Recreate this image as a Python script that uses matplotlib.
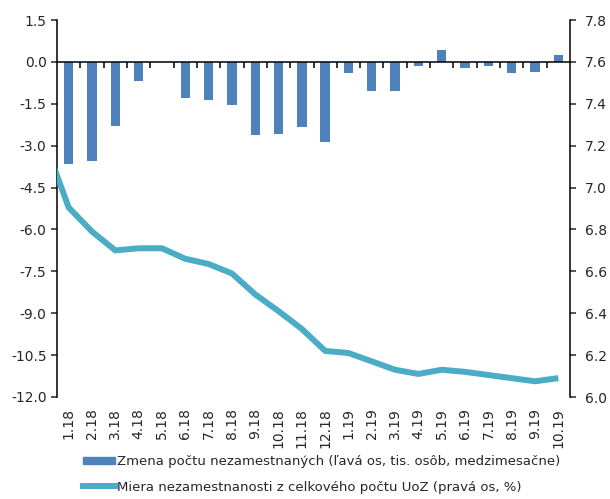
# Zmena poctu nezamestnanych a miera nezamestnanosti (UoZ), 1.18 - 10.19

import numpy as np
import matplotlib
matplotlib.use("Agg")
import matplotlib.pyplot as plt
from matplotlib.ticker import FixedLocator

months = ["1.18", "2.18", "3.18", "4.18", "5.18", "6.18", "7.18", "8.18",
          "9.18", "10.18", "11.18", "12.18", "1.19", "2.19", "3.19", "4.19",
          "5.19", "6.19", "7.19", "8.19", "9.19", "10.19"]

# zmena poctu nezamestnanych, tis. osob, medzimesacne (lava os)
change = [-3.67, -3.55, -2.29, -0.68, 0.0, -1.31, -1.36, -1.55,
          -2.63, -2.57, -2.34, -2.88, -0.41, -1.03, -1.06, -0.14,
          0.44, -0.23, -0.13, -0.41, -0.37, 0.23]

# miera nezamestnanosti z celkoveho poctu UoZ, % (prava os)
# prvy bod je 12.17, vidno z neho len kusok pri lavej osi
rate_prev = 7.21
rate = [6.905, 6.79, 6.70, 6.71, 6.71, 6.66, 6.635, 6.59,
        6.49, 6.41, 6.325, 6.22, 6.21, 6.17, 6.13, 6.11,
        6.13, 6.12, 6.105, 6.09, 6.075, 6.09]

bar_color = "#4F81BD"
line_color = "#4BACC6"
txt = "#262626"

plt.rcParams["font.family"] = "DejaVu Sans"
plt.rcParams["font.size"] = 10

fig = plt.figure(figsize=(6.10, 4.99), dpi=100)
ax = fig.add_axes([57 / 610, 1 - 397 / 499, (570 - 57) / 610, (397 - 20) / 499])
ax2 = ax.twinx()

x = np.arange(len(months))
ax.bar(x, change, width=0.4, color=bar_color, zorder=2)

x_line = np.arange(-1, len(months))
ax2.plot(x_line, [rate_prev] + rate, color=line_color, lw=4.3,
         solid_joinstyle="round", solid_capstyle="butt", zorder=3)

ax.set_xlim(-0.5, len(months) - 0.5)
ax.set_ylim(-12, 1.5)
ax.set_yticks(np.arange(-12, 1.6, 1.5))
ax.set_yticklabels(["%.1f" % v for v in np.arange(-12, 1.6, 1.5)])
ax2.set_ylim(6.0, 7.8)
ax2.set_yticks(np.arange(6.0, 7.81, 0.2))
ax2.set_yticklabels(["%.1f" % v for v in np.arange(6.0, 7.81, 0.2)])

for s in ["top", "right"]:
    ax.spines[s].set_visible(False)
for s in ["top", "left", "bottom"]:
    ax2.spines[s].set_visible(False)
ax.spines["left"].set_linewidth(1.1)
ax2.spines["right"].set_linewidth(1.1)

# nulova os s ciarkami medzi kategoriami
ax.spines["bottom"].set_position(("data", 0))
ax.spines["bottom"].set_linewidth(1.1)
ax.spines["bottom"].set_zorder(4)
ax.xaxis.set_major_locator(FixedLocator([]))
ax.xaxis.set_minor_locator(FixedLocator(np.arange(0.5, len(months) - 1, 1)))
ax.tick_params(axis="x", which="minor", direction="out", length=4.5, width=1.1)

sec = ax.secondary_xaxis(0)
sec.spines["bottom"].set_visible(False)
sec.set_xticks(x)
sec.set_xticklabels(months, rotation=90, color=txt)
sec.tick_params(axis="x", length=0, pad=8)

ax.tick_params(axis="y", direction="out", length=4.5, width=1.1, colors=txt, pad=3)
ax2.tick_params(axis="y", direction="out", length=4.5, width=1.1, colors=txt, pad=6)
ax.spines["left"].set_color("black")
ax2.spines["right"].set_color("black")

h1 = plt.Rectangle((0, 0), 1, 1, color=bar_color)
h2 = plt.Line2D([0], [0], color=line_color, lw=4.3)
fig.legend([h1, h2],
           ["Zmena počtu nezamestnaných (ľavá os, tis. osôb, medzimesačne)",
            "Miera nezamestnanosti z celkového počtu UoZ (pravá os, %)"],
           loc="upper left", bbox_to_anchor=(83 / 610, 1 - 455 / 499),
           frameon=False, borderpad=0, borderaxespad=0, handlelength=2.4,
           handleheight=0.45, handletextpad=0.2, labelspacing=0.95,
           labelcolor=txt, prop={"size": 9.5})

fig.savefig("out.png", dpi=100)
